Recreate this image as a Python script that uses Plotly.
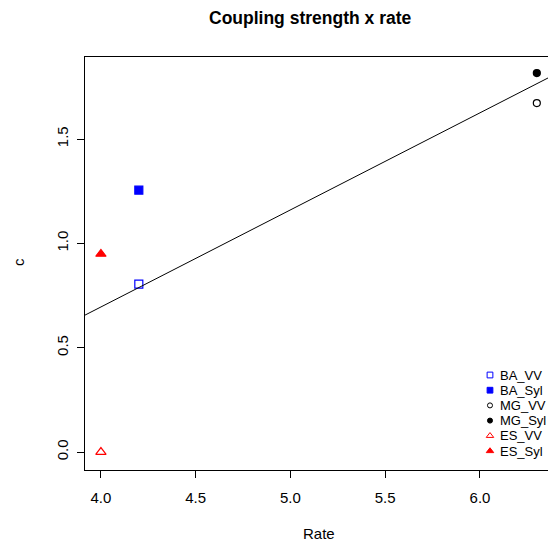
import numpy as np
import plotly.graph_objects as go

# Data
groups = ["BA_VV", "BA_Syl", "MG_VV", "MG_Syl", "ES_VV", "ES_Syl"]
rate = [4.2, 4.2, 6.3, 6.3, 4.0, 4.0]
coupling = [0.805, 1.255, 1.672, 1.816, 0.0, 0.949]
symbols = ["square-open", "square", "circle-open", "circle", "triangle-up-open", "triangle-up"]
colors = ["#0000FF", "#0000FF", "#000000", "#000000", "#FF0000", "#FF0000"]
x_ticks = [4.0, 4.5, 5.0, 5.5, 6.0]
y_ticks = [0.0, 0.5, 1.0, 1.5]

x_range = [3.916, 6.359]
y_range = [-0.086, 1.893]

def msize(s, legend=False):
    base = {"square": 8, "circle": 7, "triangle": 9}
    k = s.split("-")[0]
    v = base[k]
    return v * 0.72 if legend else v

fig = go.Figure()
for g, xv, yv, s, c in zip(groups, rate, coupling, symbols, colors):
    fig.add_trace(go.Scatter(
        x=[xv], y=[yv], mode="markers", name=g, showlegend=False,
        marker=dict(symbol=s, color=c, size=msize(s), line=dict(color=c, width=1.2)),
    ))

# linear fit line
slope, intercept = np.polyfit(rate, coupling, 1)
lx = np.array(x_range)
fig.add_trace(go.Scatter(x=lx, y=intercept + slope * lx, mode="lines",
                         line=dict(color="black", width=1), showlegend=False,
                         hoverinfo="skip"))

# manual legend (R style, no box) on an overlay axis spanning the plot area
leg_x = 0.8747
leg_text_x = 0.892
leg_y = [(470 - (375 + 15.2 * i)) / 413 for i in range(len(groups))]
for g, s, c, ly in zip(groups, symbols, colors, leg_y):
    fig.add_trace(go.Scatter(
        x=[leg_x], y=[ly], xaxis="x2", yaxis="y2", mode="markers", showlegend=False,
        hoverinfo="skip",
        marker=dict(symbol=s, color=c, size=msize(s, True), line=dict(color=c, width=1)),
    ))

font = "Liberation Sans, Arial, Helvetica, sans-serif"
annotations = [
    dict(text="<b>Coupling strength x rate</b>", xref="paper", yref="paper",
         x=(310 - 85) / 463, y=(470 - 18) / 413,
         showarrow=False, font=dict(size=17.5), xanchor="center", yanchor="middle"),
    dict(text="Rate", xref="paper", yref="paper", x=(319 - 85) / 463,
         y=(470 - 533) / 413, showarrow=False, xanchor="center", yanchor="middle"),
    dict(text="c", xref="paper", yref="paper", x=(18 - 85) / 463,
         y=(470 - 262) / 413, showarrow=False, textangle=-90,
         xanchor="center", yanchor="middle"),
]
for g, ly in zip(groups, leg_y):
    annotations.append(dict(text=g, xref="paper", yref="paper", x=leg_text_x, y=ly,
                            showarrow=False, xanchor="left", yanchor="middle",
                            font=dict(size=13)))

fig.update_layout(
    width=548, height=542,
    margin=dict(l=85, r=0, t=57, b=72),
    plot_bgcolor="white", paper_bgcolor="white",
    font=dict(family=font, size=15, color="black"),
    showlegend=False,
    xaxis=dict(range=x_range, showgrid=False, zeroline=False,
               showline=True, mirror=True, linecolor="black", linewidth=1,
               ticks="outside", ticklen=7, tickcolor="black",
               tickvals=x_ticks, ticktext=[f"{v:.1f}" for v in x_ticks],
               ticklabelstandoff=7),
    yaxis=dict(range=y_range, showgrid=False, zeroline=False,
               showline=True, mirror=False, linecolor="black", linewidth=1,
               ticks="outside", ticklen=7, tickcolor="black",
               tickvals=y_ticks, ticktext=[f"{v:.1f}" for v in y_ticks],
               tickangle=-90, ticklabelstandoff=3),
    xaxis2=dict(range=[0, 1], overlaying="x", visible=False, fixedrange=True),
    yaxis2=dict(range=[0, 1], overlaying="y", visible=False, fixedrange=True),
    annotations=annotations,
)
fig.write_html("out.html", config={"displayModeBar": False},
               post_script="document.body.style.margin='0';document.body.style.overflow='hidden';")
